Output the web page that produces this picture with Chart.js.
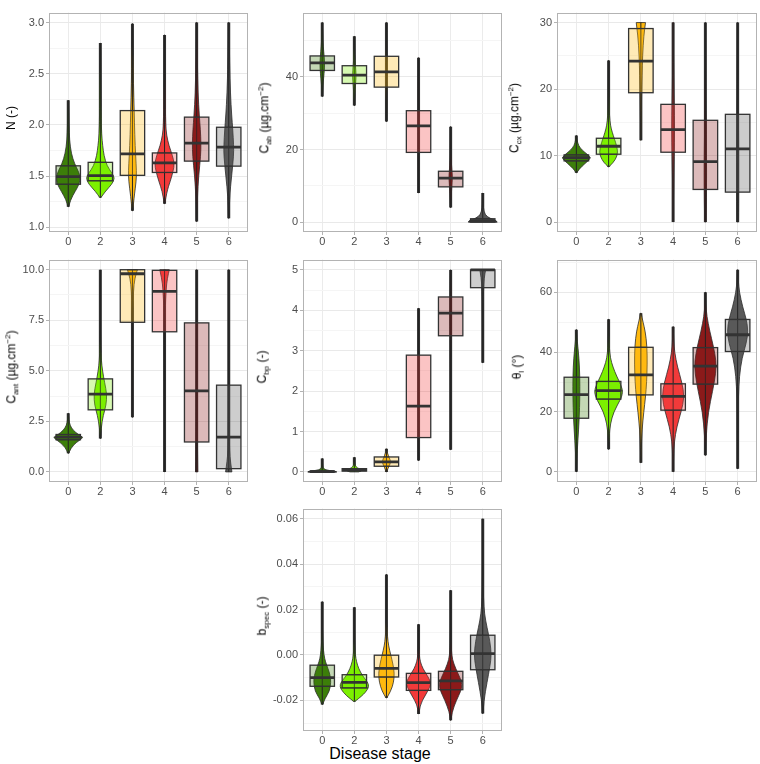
<!DOCTYPE html>
<html>
<head>
<meta charset="utf-8">
<script src="https://cdn.jsdelivr.net/npm/chart.js@4/dist/chart.umd.min.js"></script>
<style>
  body { margin: 0; background: #fff; font-family: 'Liberation Sans', Arial, sans-serif; }
  #wrap { position: relative; width: 760px; height: 764px; overflow: hidden; }
  .panel { position: absolute; }
  .ytitle { position: absolute; transform: translate(-50%, -50%) rotate(-90deg); white-space: nowrap; font-size: 12px; color: #000; }
  .ytitle sub, .ytitle sup { font-size: 8px; }
  #xtitle { position: absolute; left: 380px; top: 754px; transform: translate(-50%, -50%); font-size: 16px; color: #000; white-space: nowrap; }
</style>
</head>
<body>
<div id="wrap"><div id="xtitle">Disease stage</div></div>
<script>
const stages = ['0', '2', '3', '4', '5', '6'];
const fills = ['#3d7f0a', '#7cf000', '#ffb90f', '#f23a3a', '#8b1a1a', '#595959'];

// per stage: [min, q1, median, q3, max]
const nStats = [[1.20, 1.42, 1.495, 1.60, 2.24], [1.29, 1.454, 1.504, 1.634, 2.80], [1.16, 1.507, 1.717, 2.14, 2.99],
  [1.23, 1.535, 1.628, 1.726, 2.88], [1.056, 1.646, 1.822, 2.076, 3.0], [1.087, 1.597, 1.782, 1.977, 3.0]];
const cabStats = [[34.6, 41.8, 43.9, 45.8, 55], [32.1, 38.2, 40.5, 43.1, 51.2], [27.7, 37.2, 41.4, 45.7, 55],
  [8, 19.2, 26.5, 30.7, 45.3], [4, 9.7, 12.1, 14.0, 26.3], [0, 0, 0.3, 0.9, 8]];
const ccxStats = [[7.4, 9.2, 9.7, 10.1, 13], [8.3, 10.2, 11.4, 12.6, 24.3], [12.3, 19.45, 24.2, 29.1, 30],
  [0, 10.5, 13.9, 17.7, 30], [0, 4.9, 9.1, 15.3, 30], [0, 4.5, 11.0, 16.2, 30]];
const cantStats = [[0.92, 1.59, 1.72, 1.85, 2.9], [1.65, 3.07, 3.85, 4.6, 10], [2.7, 7.4, 9.8, 10, 10],
  [0, 6.93, 8.93, 9.97, 10], [0, 1.48, 4.01, 7.37, 10], [0, 0.16, 1.72, 4.29, 10]];
const cbpStats = [[0, 0, 0.005, 0.02, 0.33], [0, 0.02, 0.05, 0.08, 0.36], [0, 0.14, 0.25, 0.37, 0.57],
  [0.28, 0.85, 1.63, 2.89, 4.05], [0.55, 3.37, 3.93, 4.33, 5], [2.7, 4.56, 5, 5, 5]];
const thetaStats = [[0, 17.9, 25.8, 31.6, 47.5], [7.5, 24.3, 27.1, 30.2, 51], [3, 25.7, 32.4, 41.6, 53],
  [0, 20.6, 25.2, 29.4, 48.5], [5.5, 29.3, 35.3, 41.5, 60], [1, 40.2, 45.8, 50.9, 67.5]];
const bspecStats = [[-0.0218, -0.0138, -0.0100, -0.0045, 0.0235], [-0.0205, -0.0145, -0.0121, -0.0087, 0.021],
  [-0.0189, -0.0097, -0.0059, -0.0001, 0.0355], [-0.026, -0.0156, -0.0122, -0.0081, 0.0135],
  [-0.0288, -0.0153, -0.0114, -0.0072, 0.0285], [-0.0258, -0.0065, 0.0006, 0.0087, 0.06]];

// violin density profiles: [value, relative width]
const nViolin = [
  [[1.20, .02], [1.27, .16], [1.35, .48], [1.42, .76], [1.49, .83], [1.55, .69], [1.62, .44], [1.72, .21], [1.85, .09], [2.0, .05], [2.24, .01]],
  [[1.29, .04], [1.35, .34], [1.42, .8], [1.48, 1.0], [1.53, .8], [1.6, .46], [1.7, .25], [1.8, .16], [1.9, .09], [2.1, .05], [2.8, .01]],
  [[1.16, .02], [1.3, .12], [1.45, .26], [1.55, .28], [1.7, .22], [1.9, .16], [2.14, .12], [2.4, .07], [2.7, .04], [2.99, .01]],
  [[1.23, .02], [1.35, .16], [1.45, .4], [1.55, .6], [1.62, .68], [1.7, .55], [1.8, .3], [1.9, .14], [2.0, .08], [2.3, .04], [2.88, .01]],
  [[1.056, .01], [1.3, .05], [1.5, .14], [1.7, .28], [1.82, .3], [1.95, .26], [2.1, .18], [2.3, .1], [2.6, .05], [3.0, .02]],
  [[1.087, .01], [1.3, .06], [1.5, .2], [1.7, .34], [1.8, .34], [1.95, .28], [2.1, .2], [2.3, .12], [2.6, .06], [3.0, .02]]];
const cabViolin = [
  [[34.6, .01], [38, .05], [41, .13], [44, .17], [47, .1], [50, .04], [55, .01]],
  [[32.1, .01], [36, .05], [39, .1], [40.5, .12], [43, .08], [46, .03], [51.2, .01]],
  [[27.7, .01], [33, .03], [38, .05], [42, .06], [46, .04], [50, .02], [55, .01]],
  [[8, .01], [15, .02], [22, .03], [27, .04], [32, .03], [38, .02], [45.3, .01]],
  [[4, .01], [8, .05], [11, .1], [12.5, .12], [14, .09], [17, .04], [20, .02], [26.3, .01]],
  [[0, 1.0], [0.5, .9], [1, .5], [2, .15], [4, .04], [6, .02], [8, .01]]];
const ccxViolin = [
  [[7.4, .02], [8, .2], [8.8, .6], [9.4, .9], [9.7, .97], [10.2, .75], [10.8, .4], [11.5, .15], [12.3, .05], [13, .01]],
  [[8.3, .02], [9, .35], [9.8, .55], [10.5, .63], [11.5, .55], [12.5, .4], [13.5, .25], [14.5, .13], [16, .06], [18, .03], [24.3, .01]],
  [[12.3, .01], [16, .03], [19.5, .05], [22, .08], [25, .12], [28, .2], [30, .32]],
  [[0, .01], [5, .03], [10, .07], [14, .1], [18, .07], [22, .04], [26, .02], [30, .02]],
  [[0, .05], [3, .07], [6, .08], [9, .08], [13, .06], [18, .04], [24, .02], [30, .01]],
  [[0, .06], [3, .07], [7, .07], [11, .07], [16, .05], [22, .03], [30, .01]]];
const cantViolin = [
  [[0.92, .02], [1.2, .2], [1.45, .55], [1.65, .95], [1.72, 1.0], [1.85, .7], [2.05, .35], [2.3, .12], [2.6, .04], [2.9, .01]],
  [[1.65, .01], [2.2, .06], [2.8, .2], [3.3, .4], [3.85, .45], [4.4, .3], [5, .15], [5.5, .07], [6.2, .03], [7, .01]],
  [[2.7, .01], [5, .01], [7.4, .02], [8.5, .05], [9.3, .1], [9.8, .25], [10, .35]],
  [[0, .01], [3, .01], [6, .02], [8, .05], [9, .1], [9.6, .2], [10, .33]],
  [[0, .08], [1, .06], [3, .04], [5, .03], [7, .02], [10, .01]],
  [[0, .22], [0.5, .12], [1, .06], [2, .03], [4, .02], [7, .01], [10, .01]]];
const cbpViolin = [
  [[0, 1.0], [0.02, .8], [0.05, .2], [0.1, .05], [0.2, .02], [0.33, .01]],
  [[0, .3], [0.03, .55], [0.06, .45], [0.1, .2], [0.15, .06], [0.25, .02], [0.36, .01]],
  [[0, .02], [0.1, .12], [0.2, .26], [0.27, .28], [0.35, .2], [0.45, .08], [0.57, .01]],
  [[0.28, .01], [0.8, .03], [1.5, .04], [2.5, .03], [3.5, .02], [4.05, .01]],
  [[0.55, .01], [2, .01], [3.3, .03], [3.9, .05], [4.4, .04], [5, .02]],
  [[2.7, .01], [3.9, .02], [4.5, .05], [4.8, .1], [5, .2]]];
const thetaViolin = [
  [[0, .01], [5, .04], [10, .1], [18, .2], [25, .24], [32, .24], [38, .18], [42, .1], [45, .04], [47.5, .01]],
  [[7.5, .01], [12, .04], [16, .12], [20, .35], [24, .8], [26.5, 1.0], [29, .85], [32, .55], [35, .3], [38, .12], [42, .04], [51, .01]],
  [[3, .01], [8, .03], [14, .08], [20, .2], [25, .32], [30, .4], [36, .44], [42, .42], [47, .3], [50, .15], [53, .02]],
  [[0, .01], [5, .03], [10, .08], [15, .25], [20, .55], [25, .78], [30, .6], [35, .3], [40, .1], [44, .04], [48.5, .01]],
  [[5.5, .01], [12, .05], [20, .2], [27, .5], [33, .72], [37, .74], [42, .55], [47, .3], [52, .1], [56, .03], [60, .01]],
  [[1, .01], [15, .02], [25, .05], [32, .12], [38, .3], [43, .6], [47, .72], [51, .6], [55, .35], [60, .12], [64, .04], [67.5, .01]]];
const bspecViolin = [
  [[-0.0218, .02], [-0.019, .2], [-0.016, .5], [-0.012, .6], [-0.009, .55], [-0.006, .4], [-0.003, .22], [0.0, .12], [0.004, .06], [0.008, .03], [0.012, .015], [0.0235, .005]],
  [[-0.0205, .03], [-0.018, .55], [-0.015, .95], [-0.013, 1.0], [-0.011, .8], [-0.009, .55], [-0.006, .3], [-0.003, .15], [0.0, .07], [0.004, .03], [0.01, .01], [0.021, .005]],
  [[-0.0189, .03], [-0.016, .3], [-0.012, .5], [-0.008, .55], [-0.004, .45], [0.0, .3], [0.004, .15], [0.008, .07], [0.014, .03], [0.02, .015], [0.0355, .005]],
  [[-0.026, .01], [-0.022, .1], [-0.018, .45], [-0.014, .8], [-0.012, .85], [-0.009, .6], [-0.006, .3], [-0.003, .12], [0.0, .05], [0.005, .02], [0.0135, .005]],
  [[-0.0288, .01], [-0.025, .1], [-0.02, .4], [-0.016, .7], [-0.013, .8], [-0.01, .65], [-0.006, .35], [-0.002, .12], [0.002, .05], [0.008, .02], [0.015, .008], [0.0285, .003]],
  [[-0.0258, .01], [-0.02, .08], [-0.012, .3], [-0.005, .5], [0.0, .6], [0.006, .5], [0.012, .3], [0.018, .12], [0.025, .05], [0.035, .02], [0.045, .01], [0.06, .003]]];

const panels = [
  { stats: nStats, violin: nViolin, min: 0.953, max: 3.098, step: 0.25, major: 0.5, dec: 1, title: 'N (-)', L: 49, T: 4, W: 199, H: 228, tx: 11 },
  { stats: cabStats, violin: cabViolin, min: -2.75, max: 57.75, step: 10, major: 20, dec: 0, title: 'C<sub>ab</sub> (µg.cm<sup>−2</sup>)', L: 303, T: 4, W: 199, H: 228, tx: 265 },
  { stats: ccxStats, violin: ccxViolin, min: -1.5, max: 31.5, step: 5, major: 10, dec: 0, title: 'C<sub>cx</sub> (µg.cm<sup>−2</sup>)', L: 557, T: 4, W: 200, H: 228, tx: 515 },
  { stats: cantStats, violin: cantViolin, min: -0.5, max: 10.5, step: 1.25, major: 2.5, dec: 1, title: 'C<sub>ant</sub> (µg.cm<sup>−2</sup>)', L: 49, T: 251, W: 199, H: 231, tx: 12 },
  { stats: cbpStats, violin: cbpViolin, min: -0.25, max: 5.255, step: 0.5, major: 1, dec: 0, title: 'C<sub>bp</sub> (-)', L: 303, T: 251, W: 199, H: 231, tx: 263 },
  { stats: thetaStats, violin: thetaViolin, min: -3.4, max: 70.9, step: 10, major: 20, dec: 0, title: 'θ<sub>l</sub> (°)', L: 557, T: 251, W: 200, H: 231, tx: 518 },
  { stats: bspecStats, violin: bspecViolin, min: -0.0335, max: 0.0645, step: 0.01, major: 0.02, dec: 2, title: 'b<sub>spec</sub> (-)', L: 303, T: 500, W: 199, H: 231, tx: 263 },
];

const AXW = 48, AXH = 26;
Chart.defaults.font.family = "'Liberation Sans', Arial, sans-serif";

function isMajor(v, major) {
  const r = v / major;
  return Math.abs(r - Math.round(r)) < 1e-6;
}

function widthAt(profile, v) {
  if (v <= profile[0][0]) return profile[0][1];
  for (let i = 1; i < profile.length; i++) {
    if (v <= profile[i][0]) {
      const [a, wa] = profile[i - 1], [b, wb] = profile[i];
      return wa + (wb - wa) * (v - a) / (b - a);
    }
  }
  return profile[profile.length - 1][1];
}

function smoothSide(ctx, pts, first) {
  if (first) ctx.moveTo(pts[0][0], pts[0][1]); else ctx.lineTo(pts[0][0], pts[0][1]);
  for (let i = 1; i < pts.length - 1; i++) {
    const mx = (pts[i][0] + pts[i + 1][0]) / 2, my = (pts[i][1] + pts[i + 1][1]) / 2;
    ctx.quadraticCurveTo(pts[i][0], pts[i][1], mx, my);
  }
  const last = pts[pts.length - 1];
  ctx.lineTo(last[0], last[1]);
}

const violinPlugin = {
  id: 'violins',
  afterDatasetsDraw(chart) {
    const p = chart.options.plugins.violins.panel;
    const { ctx, chartArea: a } = chart;
    const xs = chart.scales.x, ys = chart.scales.y;
    const unit = xs.getPixelForValue(1) - xs.getPixelForValue(0);
    ctx.save();
    ctx.beginPath();
    ctx.rect(a.left, a.top, a.right - a.left, a.bottom - a.top);
    ctx.clip();
    p.stats.forEach((s, i) => {
      const [lo, q1, med, q3, hi] = s;
      const cx = xs.getPixelForValue(i);
      const half = unit * 0.45;
      const bh = unit * 0.38;
      // dense raw points along the centre
      ctx.strokeStyle = '#333';
      ctx.lineWidth = 3;
      ctx.beginPath();
      ctx.moveTo(cx, ys.getPixelForValue(lo));
      ctx.lineTo(cx, ys.getPixelForValue(hi));
      ctx.stroke();
      // violin
      const prof = p.violin[i];
      const right = prof.map(d => [cx + d[1] * half, ys.getPixelForValue(d[0])]);
      const left = prof.map(d => [cx - d[1] * half, ys.getPixelForValue(d[0])]).reverse();
      ctx.beginPath();
      smoothSide(ctx, right, true);
      smoothSide(ctx, left, false);
      ctx.closePath();
      ctx.fillStyle = fills[i];
      ctx.fill();
      ctx.strokeStyle = '#2b2b2b';
      ctx.lineWidth = 0.8;
      ctx.stroke();
      // quantile lines inside violin
      [q1, med, q3].forEach(q => {
        const w = widthAt(prof, q) * half;
        const y = ys.getPixelForValue(q);
        ctx.beginPath();
        ctx.moveTo(cx - w, y);
        ctx.lineTo(cx + w, y);
        ctx.stroke();
      });
      // thin centre line
      ctx.strokeStyle = '#222';
      ctx.lineWidth = 1;
      ctx.beginPath();
      ctx.moveTo(cx, ys.getPixelForValue(lo));
      ctx.lineTo(cx, ys.getPixelForValue(hi));
      ctx.stroke();
      // box
      const yTop = ys.getPixelForValue(q3), yBot = ys.getPixelForValue(q1);
      ctx.globalAlpha = 0.3;
      ctx.fillStyle = fills[i];
      ctx.fillRect(cx - bh, yTop, bh * 2, yBot - yTop);
      ctx.globalAlpha = 1;
      ctx.strokeStyle = '#333';
      ctx.lineWidth = 1.3;
      ctx.strokeRect(cx - bh, yTop, bh * 2, yBot - yTop);
      ctx.lineWidth = 2.8;
      const ym = ys.getPixelForValue(med);
      ctx.beginPath();
      ctx.moveTo(cx - bh, ym);
      ctx.lineTo(cx + bh, ym);
      ctx.stroke();
    });
    ctx.restore();
  },
  afterDraw(chart) {
    const { ctx, chartArea: a } = chart;
    ctx.save();
    ctx.strokeStyle = '#b3b3b3';
    ctx.lineWidth = 1;
    ctx.strokeRect(Math.round(a.left) + 0.5, Math.round(a.top) + 0.5, Math.round(a.right - a.left) - 1, Math.round(a.bottom - a.top) - 1);
    ctx.restore();
  }
};

const wrap = document.getElementById('wrap');
panels.forEach(p => {
  const div = document.createElement('div');
  div.className = 'panel';
  div.style.left = (p.L - AXW) + 'px';
  div.style.top = p.T + 'px';
  const canvas = document.createElement('canvas');
  canvas.width = p.W + AXW;
  canvas.height = p.H + AXH;
  div.appendChild(canvas);
  wrap.appendChild(div);

  const t = document.createElement('div');
  t.className = 'ytitle';
  t.innerHTML = p.title;
  t.style.left = p.tx + 'px';
  t.style.top = (p.T + p.H / 2) + 'px';
  wrap.appendChild(t);

  new Chart(canvas, {
    type: 'scatter',
    data: { datasets: [{ data: p.stats.map((s, i) => ({ x: i, y: s[2] })), pointRadius: 0 }] },
    options: {
      responsive: false,
      animation: false,
      layout: { padding: 0, autoPadding: false },
      plugins: { legend: { display: false }, tooltip: { enabled: false }, violins: { panel: p } },
      scales: {
        x: {
          type: 'linear', min: -0.6, max: 5.6,
          afterFit(s) { s.height = AXH; },
          border: { display: false },
          grid: { color: '#ebebeb', tickColor: '#b3b3b3', tickLength: 3 },
          ticks: { stepSize: 1, includeBounds: false, padding: 0, color: '#4d4d4d', font: { size: 11 },
            callback: v => stages[v] ?? '' },
        },
        y: {
          type: 'linear', min: p.min, max: p.max,
          afterFit(s) { s.width = AXW; },
          border: { display: false },
          grid: {
            color: c => (c.tick && isMajor(c.tick.value, p.major)) ? '#e9e9e9' : '#f5f5f5',
            tickColor: c => (c.tick && isMajor(c.tick.value, p.major)) ? '#b3b3b3' : 'rgba(0,0,0,0)',
            tickLength: 3,
          },
          ticks: { stepSize: p.step, includeBounds: false, autoSkip: false, maxTicksLimit: 30, padding: 2,
            color: '#4d4d4d', font: { size: 11 },
            callback: v => {
              if (!isMajor(v, p.major)) return '';
              const val = Math.abs(v) < 1e-9 ? 0 : v;
              return val.toFixed(p.dec);
            } },
        },
      },
    },
    plugins: [violinPlugin],
  });
});
</script>
</body>
</html>
